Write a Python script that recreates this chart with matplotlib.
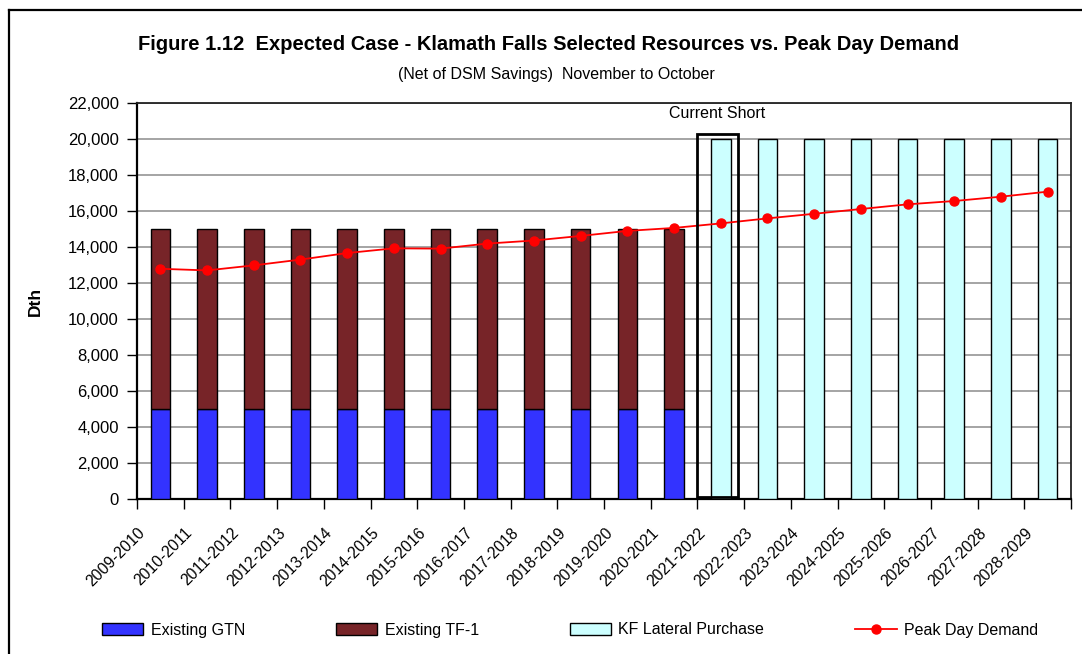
import numpy as np
import matplotlib
matplotlib.use("Agg")
import matplotlib.pyplot as plt
from matplotlib.lines import Line2D
from matplotlib.patches import Patch, Rectangle
import matplotlib.transforms as mtransforms

plt.rcParams['font.family'] = ['Liberation Sans', 'DejaVu Sans']

# ---------------- data ----------------
categories = ['2009-2010', '2010-2011', '2011-2012', '2012-2013', '2013-2014',
              '2014-2015', '2015-2016', '2016-2017', '2017-2018', '2018-2019',
              '2019-2020', '2020-2021', '2021-2022', '2022-2023', '2023-2024',
              '2024-2025', '2025-2026', '2026-2027', '2027-2028', '2028-2029']
existing_gtn = [5000, 5000, 5000, 5000, 5000, 5000, 5000, 5000, 5000, 5000,
                5000, 5000, None, None, None, None, None, None, None, None]
existing_tf1 = [10000, 10000, 10000, 10000, 10000, 10000, 10000, 10000, 10000, 10000,
                10000, 10000, None, None, None, None, None, None, None, None]
kf_lateral = [None, None, None, None, None, None, None, None, None, None,
              None, None, 20000, 20000, 20000, 20000, 20000, 20000, 20000, 20000]
peak_day_demand = [12790, 12700, 12980, 13300, 13665, 13925, 13910, 14190, 14360, 14615,
                   14895, 15060, 15310, 15590, 15845, 16110, 16370, 16555, 16795, 17075]
short_category = '2021-2022'
yticks = list(range(0, 22001, 2000))

# ---------------- figure ----------------
W, H = 1082, 654
fig = plt.figure(figsize=(W / 100, H / 100), dpi=100)
ax = fig.add_axes([137 / W, 1 - 499 / H, (1071 - 137) / W, (499 - 103) / H])

x = np.arange(len(categories))
bw = 0.42

def arr(v):
    return np.array([np.nan if a is None else a for a in v], dtype=float)

gtn = arr(existing_gtn)
tf1 = arr(existing_tf1)
kfl = arr(kf_lateral)

m = ~np.isnan(gtn)
ax.bar(x[m], gtn[m], bw, color='#3333FF', edgecolor='black', linewidth=1.0, zorder=3,
       label='Existing GTN')
m = ~np.isnan(tf1)
ax.bar(x[m], tf1[m], bw, bottom=gtn[m], color='#772428', edgecolor='black', linewidth=1.0,
       zorder=3, label='Existing TF-1')
m = ~np.isnan(kfl)
ax.bar(x[m], kfl[m], bw, color='#CCFFFF', edgecolor='black', linewidth=1.0, zorder=3,
       label='KF Lateral Purchase')
ax.plot(x, peak_day_demand, color='#FF0000', linewidth=1.3, marker='o', markersize=6.5,
        zorder=5, label='Peak Day Demand')

# Current short box
i_s = categories.index(short_category)
box = Rectangle((i_s - 0.5, 110), 0.86, kfl[i_s] + 170, fill=False, edgecolor='black',
                linewidth=2.0, zorder=6, clip_on=False)
ax.add_patch(box)
ax.text(i_s - 0.5 + 0.43, 21400, 'Current Short', ha='center', va='center', fontsize=11.5,
        zorder=7)

# axes styling
ax.set_xlim(-0.5, len(categories) - 0.5)
ax.set_ylim(0, 22000)
ax.set_yticks(yticks)
ax.set_yticklabels([f'{v:,}' for v in yticks], fontsize=12)
ax.yaxis.grid(True, color='#8c8c8c', linewidth=1.1, zorder=0)
ax.set_axisbelow(True)
ax.tick_params(axis='y', direction='out', length=7, width=1, pad=6)

ax.set_xticks(x)
ax.set_xticklabels(categories, rotation=45, ha='right', va='top', fontsize=11.3)
ax.set_xticks(np.arange(-0.5, len(categories)), minor=True)
ax.tick_params(axis='x', which='major', length=0, pad=19)
ax.tick_params(axis='x', which='minor', length=7, width=1, direction='out')
offset = mtransforms.ScaledTranslation(-12 / 100, 0, fig.dpi_scale_trans)
for lab in ax.get_xticklabels():
    lab.set_transform(lab.get_transform() + offset)

for s in ['left', 'bottom']:
    ax.spines[s].set_color('black')
    ax.spines[s].set_linewidth(1.6)
for s in ['top', 'right']:
    ax.spines[s].set_color('#222222')
    ax.spines[s].set_linewidth(1.3)

ax.set_ylabel('Dth', fontsize=12.5, fontweight='bold')
ax.yaxis.set_label_coords((43 - 137) / (1071 - 137), 0.5)

# titles
fig.text(549 / W, 1 - 45 / H,
         'Figure 1.12  Expected Case - Klamath Falls Selected Resources vs. Peak Day Demand',
         ha='center', va='center', fontsize=14.5, fontweight='bold')
fig.text(556 / W, 1 - 75 / H, '(Net of DSM Savings)  November to October',
         ha='center', va='center', fontsize=11.5)

# legend
handles = [Patch(facecolor='#3333FF', edgecolor='black', linewidth=1.0),
           Patch(facecolor='#772428', edgecolor='black', linewidth=1.0),
           Patch(facecolor='#CCFFFF', edgecolor='black', linewidth=1.0),
           Line2D([], [], color='#FF0000', linewidth=1.3, marker='o', markersize=6.5)]
labels = ['Existing GTN', 'Existing TF-1', 'KF Lateral Purchase', 'Peak Day Demand']
fig.legend(handles, labels, loc='center', bbox_to_anchor=(570 / W, 1 - 630 / H), ncol=4,
           frameon=False, fontsize=11.5, handlelength=2.6, handleheight=0.75,
           handletextpad=0.45, columnspacing=5.7, borderaxespad=0, borderpad=0)

# outer frame
fx = 9 / W
fy = 1 - 10 / H
fig.add_artist(Line2D([fx, fx], [0, fy], transform=fig.transFigure, color='black', linewidth=1.6))
fig.add_artist(Line2D([fx, 1], [fy, fy], transform=fig.transFigure, color='black', linewidth=1.6))

fig.savefig('out.png', dpi=100, facecolor='white')
